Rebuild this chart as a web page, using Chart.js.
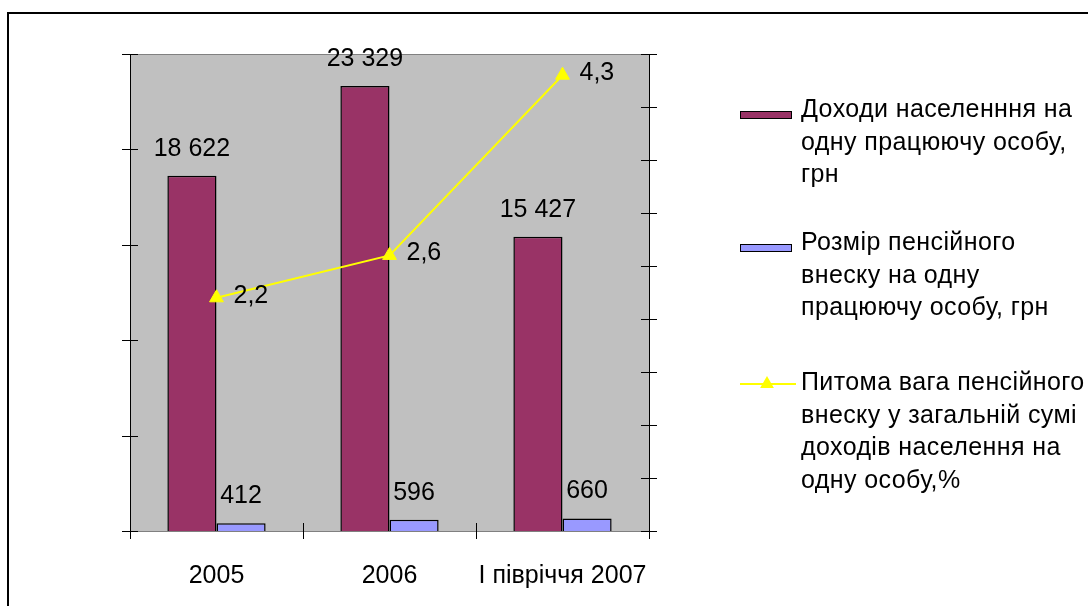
<!DOCTYPE html>
<html>
<head>
<meta charset="utf-8">
<script src="https://cdn.jsdelivr.net/npm/chart.js@4.4.1/dist/chart.umd.min.js"></script>
<style>
  html, body { margin: 0; padding: 0; background: #fff; width: 1088px; height: 606px; overflow: hidden; }
  #frame { position: absolute; left: 7px; top: 12px; right: 0; bottom: 0; border-left: 2px solid #000; border-top: 2px solid #000; }
  #c { position: absolute; left: 0; top: 0; }
  #legend { position: absolute; left: 0; top: 0; font-family: "Liberation Sans", Arial, sans-serif; font-size: 25px; letter-spacing: 0.4px; color: #000; }
  .item { position: absolute; left: 740px; width: 348px; }
  .box { position: absolute; left: 0; width: 52px; height: 8px; box-sizing: border-box; border: 1.5px solid #000; }
  .mark { position: absolute; left: 0; }
  .txt { position: absolute; left: 61px; top: 0; line-height: 32.5px; white-space: nowrap; }
</style>
</head>
<body>
<div id="frame"></div>
<canvas id="c" width="1088" height="606"></canvas>
<div id="legend"></div>
<script>
// Categories and series
const categories = ['2005', '2006', 'І півріччя 2007'];
const incomePerWorker = [18622, 23329, 15427];
const pensionPerWorker = [412, 596, 660];
const pensionShare = [2.2, 2.6, 4.3];

const seriesNames = [
  ['Доходи населенння на', 'одну працюючу особу,', 'грн'],
  ['Розмір пенсійного', 'внеску на одну', 'працюючу особу, грн'],
  ['Питома вага пенсійного', 'внеску у загальній сумі', 'доходів населення на', 'одну особу,%']
];

// Axis ranges
const leftAxisMax = 25000;
const leftAxisStep = 5000;
const rightAxisMax = 4.5;
const rightAxisStep = 0.5;

const FONT = '"Liberation Sans", Arial, sans-serif';
const FONT_SIZE = 25;
const COLORS = ['#993366', '#9999FF', '#FFFF00'];

function fmtInt(n) {
  return String(n).replace(/\B(?=(\d{3})+(?!\d))/g, ' ');
}
function fmtDec(v) {
  return String(v).replace('.', ',');
}

// Grey plot area with a grey top edge
const plotBackground = {
  id: 'plotBackground',
  beforeDraw(chart) {
    const { ctx, chartArea: a } = chart;
    ctx.save();
    ctx.fillStyle = '#C0C0C0';
    ctx.fillRect(a.left, a.top, a.right - a.left, a.bottom - a.top);
    ctx.strokeStyle = '#808080';
    ctx.lineWidth = 1;
    ctx.beginPath();
    ctx.moveTo(a.left, a.top + 0.5);
    ctx.lineTo(a.right, a.top + 0.5);
    ctx.stroke();
    ctx.restore();
  }
};

// Tick marks that cross each axis line
const crossTicks = {
  id: 'crossTicks',
  afterDraw(chart) {
    const { ctx, chartArea: a, scales } = chart;
    const L = 8;
    ctx.save();
    ctx.strokeStyle = '#000';
    ctx.lineWidth = 1;
    ctx.beginPath();
    scales.y.ticks.forEach(t => {
      const py = Math.round(scales.y.getPixelForValue(t.value)) + 0.5;
      ctx.moveTo(a.left - L, py);
      ctx.lineTo(a.left + L, py);
    });
    scales.y1.ticks.forEach(t => {
      const py = Math.round(scales.y1.getPixelForValue(t.value)) + 0.5;
      ctx.moveTo(a.right - L, py);
      ctx.lineTo(a.right + L, py);
    });
    for (let i = 0; i <= categories.length; i++) {
      const px = Math.round(scales.x.getPixelForValue(i - 0.5)) + 0.5;
      ctx.moveTo(px, a.bottom - L);
      ctx.lineTo(px, a.bottom + L);
    }
    ctx.stroke();
    ctx.restore();
  }
};

// Value labels above bars and beside line points
const valueLabels = {
  id: 'valueLabels',
  afterDatasetsDraw(chart) {
    const { ctx } = chart;
    ctx.save();
    ctx.fillStyle = '#000';
    ctx.font = FONT_SIZE + 'px ' + FONT;
    chart.data.datasets.forEach((ds, di) => {
      const meta = chart.getDatasetMeta(di);
      meta.data.forEach((el, i) => {
        const v = ds.data[i];
        if (ds.type === 'line') {
          ctx.textAlign = 'left';
          ctx.textBaseline = 'middle';
          ctx.fillText(fmtDec(v), el.x + 17, el.y - 2);
        } else {
          ctx.textAlign = 'center';
          ctx.textBaseline = 'alphabetic';
          ctx.fillText(fmtInt(v), el.x, el.y - 20);
        }
      });
    });
    ctx.restore();
  }
};

const chart = new Chart(document.getElementById('c'), {
  data: {
    labels: categories,
    datasets: [
      {
        type: 'bar',
        label: seriesNames[0],
        data: incomePerWorker,
        backgroundColor: COLORS[0],
        borderColor: '#000',
        borderWidth: 1.5,
        yAxisID: 'y',
        categoryPercentage: 0.568,
        barPercentage: 1,
        order: 1
      },
      {
        type: 'bar',
        label: seriesNames[1],
        data: pensionPerWorker,
        backgroundColor: COLORS[1],
        borderColor: '#000',
        borderWidth: 1.5,
        yAxisID: 'y',
        categoryPercentage: 0.568,
        barPercentage: 1,
        order: 1
      },
      {
        type: 'line',
        label: seriesNames[2],
        data: pensionShare,
        borderColor: COLORS[2],
        borderWidth: 2,
        tension: 0,
        pointStyle: 'triangle',
        pointRadius: 8,
        pointBackgroundColor: COLORS[2],
        pointBorderColor: COLORS[2],
        pointBorderWidth: 1,
        yAxisID: 'y1',
        order: -1
      }
    ]
  },
  options: {
    responsive: false,
    animation: false,
    devicePixelRatio: 1,
    layout: { padding: { top: 54, left: 0, right: 0, bottom: 0 } },
    plugins: { legend: { display: false }, tooltip: { enabled: false } },
    scales: {
      x: {
        offset: true,
        grid: { display: false, drawTicks: false },
        border: { display: true, color: '#808080', width: 1 },
        ticks: { color: '#000', font: { family: FONT, size: FONT_SIZE }, padding: 30, maxRotation: 0, autoSkip: false },
        afterFit(s) { s.height = 75; }
      },
      y: {
        position: 'left',
        min: 0,
        max: leftAxisMax,
        ticks: { stepSize: leftAxisStep, display: false },
        grid: { display: false, drawTicks: false },
        border: { color: '#000', width: 1 },
        afterFit(s) { s.width = 130; }
      },
      y1: {
        position: 'right',
        min: 0,
        max: rightAxisMax,
        ticks: { stepSize: rightAxisStep, display: false },
        grid: { display: false, drawTicks: false },
        border: { color: '#000', width: 1 },
        afterFit(s) { s.width = 439; }
      }
    }
  },
  plugins: [plotBackground, crossTicks, valueLabels]
});

// Legend built from the dataset labels
const legendTops = [92, 225, 365];
const legend = document.getElementById('legend');
chart.data.datasets.forEach((ds, i) => {
  const item = document.createElement('div');
  item.className = 'item';
  item.style.top = legendTops[i] + 'px';
  if (ds.type === 'line') {
    const svgNS = 'http://www.w3.org/2000/svg';
    const svg = document.createElementNS(svgNS, 'svg');
    svg.setAttribute('class', 'mark');
    svg.setAttribute('width', '56');
    svg.setAttribute('height', '16');
    svg.style.top = '11px';
    const ln = document.createElementNS(svgNS, 'line');
    ln.setAttribute('x1', '0'); ln.setAttribute('y1', '8');
    ln.setAttribute('x2', '56'); ln.setAttribute('y2', '8');
    ln.setAttribute('stroke', ds.borderColor); ln.setAttribute('stroke-width', '2');
    const tri = document.createElementNS(svgNS, 'polygon');
    tri.setAttribute('points', '27,0 33.9,12 20.1,12');
    tri.setAttribute('fill', ds.pointBackgroundColor);
    svg.appendChild(ln);
    svg.appendChild(tri);
    item.appendChild(svg);
  } else {
    const box = document.createElement('div');
    box.className = 'box';
    box.style.top = '19px';
    box.style.background = ds.backgroundColor;
    item.appendChild(box);
  }
  const txt = document.createElement('div');
  txt.className = 'txt';
  ds.label.forEach((line, k) => {
    if (k) txt.appendChild(document.createElement('br'));
    txt.appendChild(document.createTextNode(line));
  });
  item.appendChild(txt);
  legend.appendChild(item);
});
</script>
</body>
</html>
